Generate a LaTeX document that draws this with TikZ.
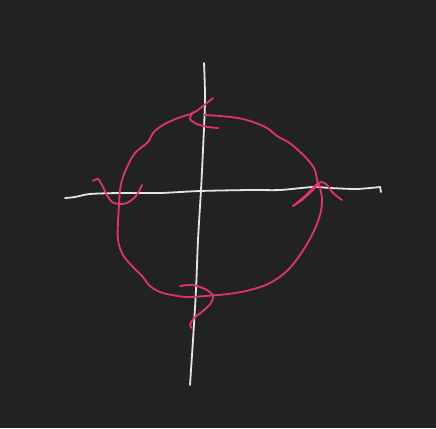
\documentclass[tikz,border=0pt]{standalone}
\usepackage{tikz}
\usepackage{xcolor}
\definecolor{board}{RGB}{34,34,33}
\definecolor{chalk}{RGB}{228,228,226}
\definecolor{rosepen}{RGB}{224,52,108}

\begin{document}
\begin{tikzpicture}[x=1pt,y=-1pt,line cap=round,line join=round]
		%Board
		\fill[board] (0,0) rectangle (436,428);
		\useasboundingbox (0,0) rectangle (436,428);
		%Axes
		\draw[chalk,line width=1.8pt] plot[smooth] coordinates {(204,63) (205,100) (203,150) (201,190) (198,240) (196,290) (193,340) (191,370) (190,385)};
		\draw[chalk,line width=1.8pt] plot[smooth] coordinates {(65,198) (75,197) (90,194) (120,193) (160,193) (200,191) (250,190) (280,190) (313,187) (330,188) (355,189) (370,188) (380,187)};
		\draw[chalk,line width=1.8pt] (380,187) -- (381,192);
		%Circle
		\draw[rosepen,line width=1.8pt] plot[smooth,tension=0.6] coordinates {(213,98) (203,106) (193,113) (178,118) (163,125) (153,133) (148,142) (136,152) (129,163) (123,177) (120,190) (119,205) (118,222) (118,240) (123,255) (133,267) (142,276) (150,286) (160,292) (172,295) (187,297) (205,296) (228,294) (250,290) (270,283) (288,270) (302,252) (313,233) (320,215) (322,200) (320,188) (317,180) (315,170) (308,160) (298,150) (288,142) (277,136) (267,128) (253,122) (238,118) (220,116) (204,115)};
		%Loops at the crossings
		\draw[rosepen,line width=1.8pt] plot[smooth] coordinates {(193,112) (190,119) (197,124) (208,127) (218,128)};
		\draw[rosepen,line width=1.8pt] plot[smooth] coordinates {(93,181) (98,179) (102,185) (107,195) (112,202) (119,204) (127,203) (136,196) (142,185)};
		\draw[rosepen,line width=1.8pt] plot[smooth] coordinates {(293,206) (304,197) (312,189) (318,183)};
		\draw[rosepen,line width=1.8pt] plot[smooth] coordinates {(293,206) (302,200) (313,190) (321,182) (327,185) (333,193) (342,200)};
		\draw[rosepen,line width=1.8pt] plot[smooth] coordinates {(180,286) (193,285) (207,290) (213,296) (211,303) (203,311) (194,318) (190,325) (192,328)};
		\end{tikzpicture}
\end{document}
